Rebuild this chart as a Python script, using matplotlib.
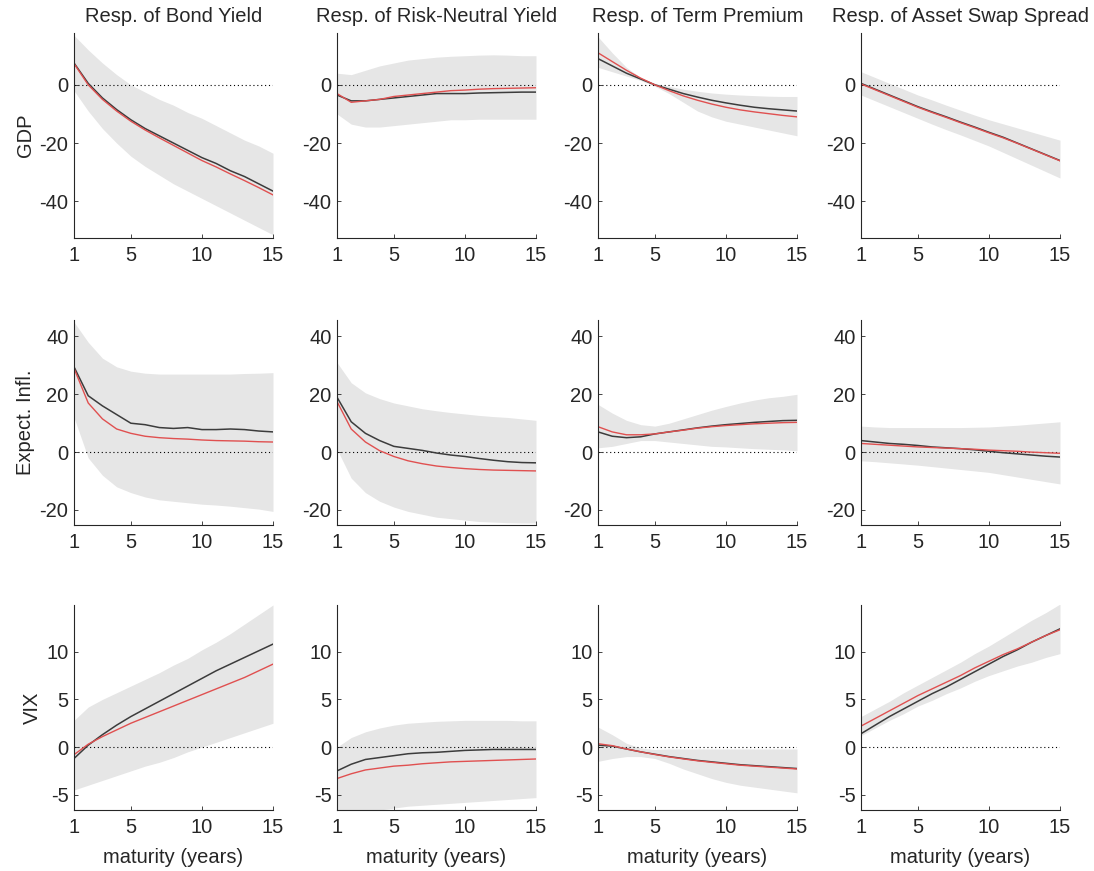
import numpy as np
import matplotlib.pyplot as plt

plt.rcParams['font.family'] = ['Liberation Sans', 'DejaVu Sans']
plt.rcParams['axes.unicode_minus'] = False

maturity = np.arange(1, 16)

titles = ['Resp. of Bond Yield', 'Resp. of Risk-Neutral Yield',
          'Resp. of Term Premium', 'Resp. of Asset Swap Spread']
shocks = ['GDP', 'Expect. Infl.', 'VIX']

# ---- GDP row ----
gdp_by_black = [7.5, 0.5, -4.5, -8.5, -12, -15, -17.5, -20, -22.5, -25, -27, -29.5, -31.5, -34, -36.5]
gdp_by_red = [7.3, 0.0, -5.0, -9.0, -12.5, -15.5, -18.2, -20.8, -23.4, -26, -28.2, -30.6, -32.9, -35.3, -37.8]
gdp_by_hi = [17, 12, 7.5, 3.5, 0, -2.5, -5, -7, -9.5, -11.5, -14, -16.5, -19, -21, -23.5]
gdp_by_lo = [-2, -9, -15, -20, -24.5, -28, -31, -34, -36.5, -39, -41.5, -44, -46.5, -49, -51.5]

gdp_rn_black = [-3.5, -5.5, -5.5, -5, -4.5, -4, -3.5, -3, -3, -3, -2.8, -2.7, -2.6, -2.5, -2.5]
gdp_rn_red = [-3, -6, -5.5, -5, -4, -3.5, -3, -2.5, -2, -1.8, -1.5, -1.3, -1.2, -1.1, -1]
gdp_rn_hi = [4, 3.5, 5, 6.5, 7.5, 8.5, 9, 9.5, 9.8, 10, 10.2, 10.3, 10.2, 10, 10]
gdp_rn_lo = [-10, -13.5, -14.5, -14.5, -14, -13.5, -13, -12.5, -12, -12, -11.8, -11.8, -11.8, -11.8, -11.8]

gdp_tp_black = [9, 6.5, 4, 2, 0, -1.5, -3, -4.2, -5.3, -6.2, -7, -7.7, -8.2, -8.6, -9]
gdp_tp_red = [11, 8, 5, 2.3, 0, -2, -3.8, -5.3, -6.6, -7.7, -8.6, -9.3, -9.9, -10.5, -11]
gdp_tp_hi = [16.5, 11, 6, 2.5, 0.5, -0.5, -1.5, -2.2, -2.8, -3.2, -3.5, -3.7, -3.9, -4, -4]
gdp_tp_lo = [6, 4.5, 3, 1.5, -0.5, -3, -6, -9, -11, -12.5, -13.5, -14.5, -15.5, -16.5, -17.5]

gdp_as_black = [0.5, -1.5, -3.5, -5.5, -7.5, -9.3, -11, -12.8, -14.5, -16.3, -18, -20, -22, -24, -26]
gdp_as_red = [0.3, -1.7, -3.7, -5.7, -7.7, -9.5, -11.2, -13, -14.7, -16.5, -18.2, -20.1, -22.1, -24.1, -26.1]
gdp_as_hi = [4.5, 2.5, 0.5, -1.5, -3.5, -5.2, -7, -8.7, -10.4, -12, -13.4, -14.8, -16.2, -17.6, -19]
gdp_as_lo = [-3.5, -5.5, -7.5, -9.5, -11.5, -13.5, -15.4, -17.2, -19.1, -21, -23.2, -25.4, -27.6, -29.8, -32]

# ---- Expected inflation row ----
ei_by_black = [29.5, 19.5, 16, 13, 10, 9.5, 8.5, 8.2, 8.5, 7.8, 7.8, 8, 7.8, 7.3, 7]
ei_by_red = [29, 17, 11.5, 8, 6.5, 5.5, 5, 4.7, 4.5, 4.2, 4, 3.9, 3.8, 3.6, 3.5]
ei_by_hi = [45, 38, 32.5, 29.5, 28, 27.3, 27, 27, 27, 27, 27, 27, 27.2, 27.3, 27.5]
ei_by_lo = [12, -2, -8, -12, -14, -15.5, -16.5, -17, -17.5, -18, -18.3, -18.7, -19.2, -19.7, -20.5]

ei_rn_black = [19, 10.5, 6.5, 4, 2, 1.3, 0.6, -0.3, -1, -1.5, -2.2, -2.8, -3.3, -3.6, -3.7]
ei_rn_red = [17.5, 8, 3.5, 0.5, -1.5, -3, -4, -4.8, -5.3, -5.7, -6, -6.2, -6.3, -6.4, -6.5]
ei_rn_hi = [31, 24, 20.5, 18.5, 17, 16, 15, 14.3, 13.7, 13.2, 12.7, 12.3, 12, 11.5, 11]
ei_rn_lo = [1, -9, -14, -17, -19, -20.5, -21.5, -22.5, -23, -23.5, -24, -24.2, -24.4, -24.5, -24.5]

ei_tp_black = [7, 5.5, 5, 5.3, 6.3, 7, 7.7, 8.4, 9, 9.5, 9.9, 10.3, 10.6, 10.9, 11]
ei_tp_red = [8.8, 7, 6, 6, 6.3, 7, 7.6, 8.3, 8.8, 9.2, 9.5, 9.8, 10, 10.2, 10.3]
ei_tp_hi = [16.5, 13.5, 11, 9.5, 9, 10, 11.5, 13, 14.5, 15.8, 17, 18, 18.8, 19.3, 20]
ei_tp_lo = [1.5, 2, 3, 4, 4, 3.5, 3, 2.5, 2, 1.8, 1.5, 1.2, 1, 0.8, 0.5]

ei_as_black = [4, 3.5, 3, 2.7, 2.3, 1.8, 1.5, 1.2, 0.8, 0.3, -0.2, -0.6, -1, -1.4, -1.7]
ei_as_red = [3, 2.7, 2.4, 2.1, 1.8, 1.6, 1.4, 1.2, 1, 0.7, 0.5, 0.3, 0, -0.2, -0.4]
ei_as_hi = [9, 8.7, 8.5, 8.5, 8.5, 8.5, 8.5, 8.5, 8.6, 8.7, 9, 9.3, 9.7, 10.1, 10.5]
ei_as_lo = [-3, -3.3, -3.7, -4.1, -4.5, -5, -5.5, -6, -6.5, -7, -7.8, -8.6, -9.4, -10.2, -11]

# ---- VIX row ----
vx_by_black = [-1.2, 0.2, 1.3, 2.3, 3.2, 4, 4.8, 5.6, 6.4, 7.2, 8, 8.7, 9.4, 10.1, 10.8]
vx_by_red = [-0.8, 0.3, 1.1, 1.8, 2.5, 3.1, 3.7, 4.3, 4.9, 5.5, 6.1, 6.7, 7.3, 8, 8.7]
vx_by_hi = [2.8, 4.2, 5, 5.7, 6.4, 7.1, 7.8, 8.6, 9.3, 10.2, 11, 11.9, 12.9, 13.9, 14.9]
vx_by_lo = [-4.5, -4, -3.5, -3, -2.5, -2, -1.6, -1.1, -0.5, 0, 0.5, 1, 1.5, 2, 2.5]

vx_rn_black = [-2.5, -1.8, -1.3, -1.1, -0.9, -0.7, -0.6, -0.55, -0.45, -0.35, -0.3, -0.25, -0.25, -0.25, -0.25]
vx_rn_red = [-3.3, -2.8, -2.4, -2.2, -2, -1.9, -1.75, -1.65, -1.55, -1.5, -1.45, -1.4, -1.35, -1.3, -1.25]
vx_rn_hi = [0, 1, 1.6, 2, 2.3, 2.5, 2.6, 2.7, 2.75, 2.8, 2.8, 2.8, 2.8, 2.75, 2.75]
vx_rn_lo = [-7, -7, -6.8, -6.6, -6.4, -6.2, -6.1, -6, -5.9, -5.8, -5.7, -5.6, -5.5, -5.4, -5.3]

vx_tp_black = [0.2, 0.1, -0.2, -0.5, -0.75, -1, -1.2, -1.4, -1.55, -1.7, -1.85, -1.95, -2.05, -2.15, -2.25]
vx_tp_red = [0.35, 0.15, -0.2, -0.5, -0.78, -1.03, -1.24, -1.44, -1.6, -1.75, -1.9, -2.0, -2.1, -2.2, -2.3]
vx_tp_hi = [2.1, 1.3, 0.4, -0.1, -0.25, -0.2, -0.2, -0.2, -0.2, -0.2, -0.2, -0.2, -0.2, -0.2, -0.2]
vx_tp_lo = [-1.5, -1.2, -1, -1, -1.2, -1.7, -2.3, -2.8, -3.3, -3.7, -4, -4.2, -4.4, -4.6, -4.8]

vx_as_black = [1.4, 2.3, 3.2, 4, 4.8, 5.6, 6.3, 7.1, 7.9, 8.7, 9.5, 10.2, 11, 11.7, 12.4]
vx_as_red = [2.2, 3, 3.8, 4.6, 5.4, 6.1, 6.8, 7.5, 8.3, 9, 9.7, 10.3, 11, 11.7, 12.3]
vx_as_hi = [3.2, 4, 4.8, 5.7, 6.5, 7.3, 8.1, 8.9, 9.8, 10.6, 11.5, 12.4, 13.3, 14.1, 15]
vx_as_lo = [1.2, 2, 2.8, 3.5, 4.3, 4.9, 5.6, 6.2, 6.9, 7.5, 8, 8.5, 8.9, 9.4, 9.8]

panels = [
    [(gdp_by_black, gdp_by_red, gdp_by_hi, gdp_by_lo),
     (gdp_rn_black, gdp_rn_red, gdp_rn_hi, gdp_rn_lo),
     (gdp_tp_black, gdp_tp_red, gdp_tp_hi, gdp_tp_lo),
     (gdp_as_black, gdp_as_red, gdp_as_hi, gdp_as_lo)],
    [(ei_by_black, ei_by_red, ei_by_hi, ei_by_lo),
     (ei_rn_black, ei_rn_red, ei_rn_hi, ei_rn_lo),
     (ei_tp_black, ei_tp_red, ei_tp_hi, ei_tp_lo),
     (ei_as_black, ei_as_red, ei_as_hi, ei_as_lo)],
    [(vx_by_black, vx_by_red, vx_by_hi, vx_by_lo),
     (vx_rn_black, vx_rn_red, vx_rn_hi, vx_rn_lo),
     (vx_tp_black, vx_tp_red, vx_tp_hi, vx_tp_lo),
     (vx_as_black, vx_as_red, vx_as_hi, vx_as_lo)],
]

ylims = [(-52.6, 17.8), (-25.2, 45.7), (-6.6, 14.9)]
yticks = [[-40, -20, 0], [-20, 0, 20, 40], [-5, 0, 5, 10]]

txt = '#262626'
W, H = 1094, 871
col_left = [74, 337, 598, 861]
row_top = [33, 320, 605]
ax_w, ax_h = 199, 205
fs = 14.5

fig = plt.figure(figsize=(W / 100, H / 100), dpi=100)

for r in range(3):
    for c in range(4):
        black, red, hi, lo = panels[r][c]
        ax = fig.add_axes([col_left[c] / W, 1 - (row_top[r] + ax_h) / H, ax_w / W, ax_h / H])
        ax.fill_between(maturity, lo, hi, color='#e6e6e6', lw=0)
        ax.plot([1, 15], [0, 0], color='black', ls=(0, (1, 2.5)), lw=0.8)
        ax.plot(maturity, black, color='#3c3c3c', lw=1.1)
        ax.plot(maturity, red, color='#e05050', lw=1.0)
        ax.set_xlim(1, 15)
        ax.set_ylim(*ylims[r])
        ax.set_xticks([1, 5, 10, 15])
        ax.set_yticks(yticks[r])
        for s in ['top', 'right']:
            ax.spines[s].set_visible(False)
        for s in ['left', 'bottom']:
            ax.spines[s].set_color(txt)
            ax.spines[s].set_linewidth(0.8)
        ax.tick_params(direction='in', length=3, width=0.6, colors=txt,
                       labelsize=fs)
        ax.tick_params(axis='x', pad=6)
        ax.tick_params(axis='y', pad=4)
        if r == 0:
            ax.set_title(titles[c], fontsize=fs, color=txt, pad=8)
        if c == 0:
            ax.set_ylabel(shocks[r], fontsize=fs, color=txt, labelpad=3)
        if r == 2:
            ax.set_xlabel('maturity (years)', fontsize=fs, color=txt, labelpad=8)

fig.savefig('out.png', dpi=100)
